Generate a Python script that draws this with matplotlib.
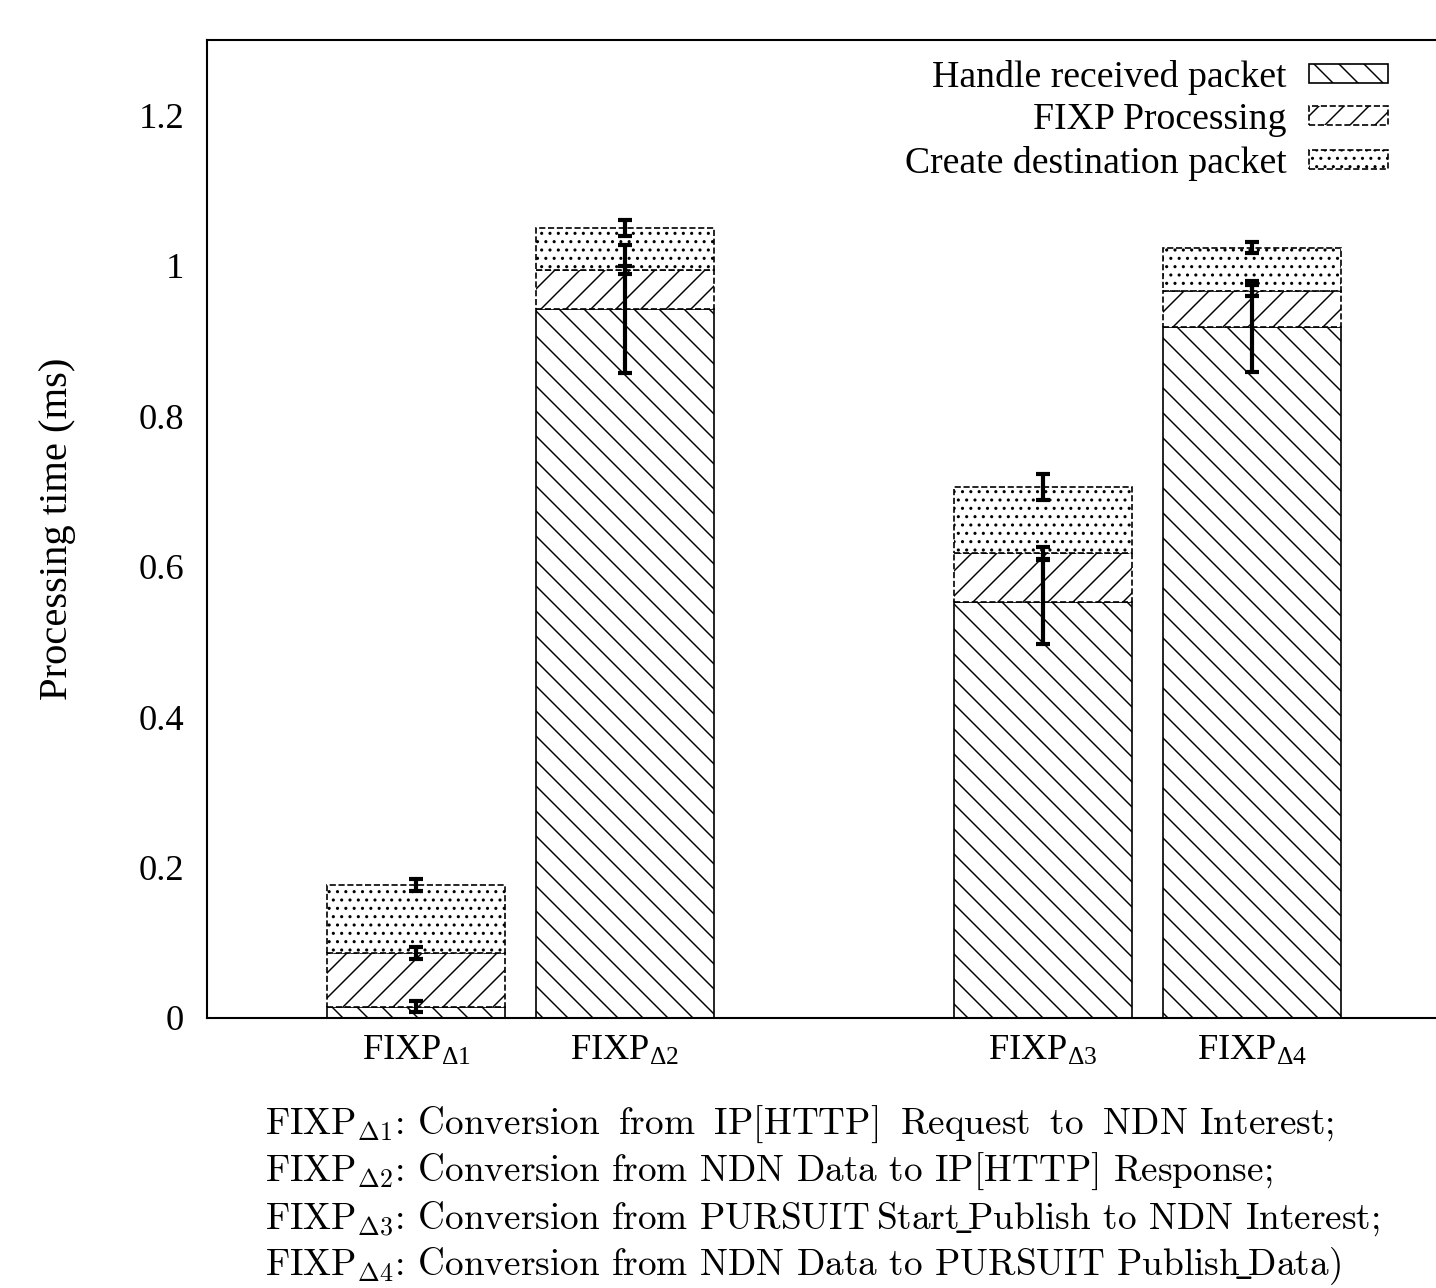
import numpy as np
import matplotlib
matplotlib.use('Agg')
import matplotlib.pyplot as plt

plt.rcParams['font.family'] = ['Liberation Serif', 'DejaVu Serif']
plt.rcParams['mathtext.fontset'] = 'custom'
plt.rcParams['mathtext.rm'] = 'Liberation Serif'
plt.rcParams['mathtext.it'] = 'Liberation Serif:italic'
plt.rcParams['hatch.linewidth'] = 0.7

# data
labels = [r'FIXP$_{\Delta1}$', r'FIXP$_{\Delta2}$', r'FIXP$_{\Delta3}$', r'FIXP$_{\Delta4}$']
series = ['Handle received packet', 'FIXP Processing', 'Create destination packet']
handle = [0.015, 0.943, 0.553, 0.919]
handle_err = [0.007, 0.085, 0.056, 0.060]
fixp = [0.072, 0.051, 0.065, 0.048]
fixp_err = [0.008, 0.005, 0.008, 0.007]
create = [0.090, 0.056, 0.088, 0.057]
create_err = [0.008, 0.011, 0.017, 0.007]
yticks = [0, 0.2, 0.4, 0.6, 0.8, 1, 1.2]
notes = [
    r'FIXP$_{\Delta1}$: Conversion $\:$from $\:$IP[HTTP] $\:$Request $\:$to $\:$NDN Interest;',
    r'FIXP$_{\Delta2}$: Conversion from NDN Data to IP[HTTP] Response;',
    r'FIXP$_{\Delta3}$: Conversion from PURSUIT$\!$ Start$\!\_\!$Publish to NDN Interest;',
    r'FIXP$_{\Delta4}$: Conversion from NDN Data to PURSUIT Publish$\!\_\!$Data)',
]

W, H, DPI = 1436, 1288, 150
fig = plt.figure(figsize=(W / DPI, H / DPI), dpi=DPI)
ax = fig.add_axes([207 / W, 1 - 1018 / H, 1 - 207 / W, (1018 - 40) / H])

# two pairs of bars with an empty slot between them
x = np.array([0, 1, 3, 4])
width = 0.85
styles = [('\\\\', '-'), ('//', '--'), ('...', '--')]

bottom = np.zeros(len(x))
for vals, errs, name, (hatch, ls) in zip([handle, fixp, create],
                                         [handle_err, fixp_err, create_err],
                                         series, styles):
    ax.bar(x, vals, width, bottom=bottom, facecolor='white', edgecolor='black',
           hatch=hatch, linestyle=ls, linewidth=0.8, label=name, zorder=1)
    bottom = bottom + np.array(vals)
    ax.errorbar(x, bottom, yerr=errs, fmt='none', ecolor='black',
                elinewidth=2, capsize=3.5, capthick=2, zorder=5)

ax.set_xlim(-1, 4.88)
ax.set_ylim(0, 1.3)
ax.set_xticks(x)
ax.set_xticklabels(labels, fontsize=17.5)
ax.set_yticks(yticks)
ax.set_yticklabels(['%g' % t for t in yticks], fontsize=17.5)
ax.tick_params(length=0)
ax.tick_params(axis='y', pad=11)
ax.tick_params(axis='x', pad=8)
ax.spines['right'].set_visible(False)
for s in ['top', 'left', 'bottom']:
    ax.spines[s].set_linewidth(1.0)

ax.legend(loc='upper right', bbox_to_anchor=(0.961, 0.98), frameon=False,
          markerfirst=False, handlelength=2.1, handleheight=0.4,
          handletextpad=0.6, labelspacing=0.22, borderpad=0, borderaxespad=0,
          fontsize=18.1)

fig.text(57 / W, 1 - 529 / H, 'Processing time (ms)', rotation=90,
         ha='center', va='center', fontsize=19.5)

for i, line in enumerate(notes):
    fig.text(265 / W, 1 - (1124 + 47.5 * i) / H, line,
             family=['cmr10', 'DejaVu Serif'], math_fontfamily='cm',
             fontsize=17.9, ha='left', va='center')

fig.savefig('out.png', dpi=DPI)
